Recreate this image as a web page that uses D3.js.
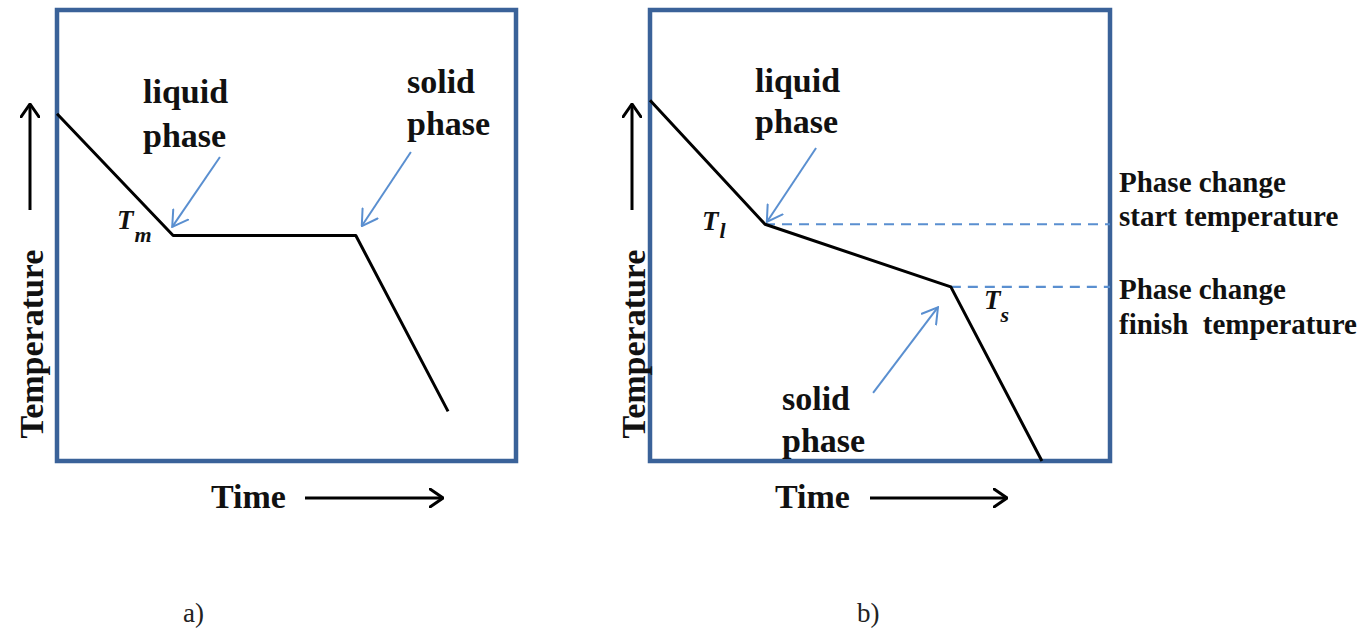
<!DOCTYPE html>
<html>
<head>
<meta charset="utf-8">
<script src="https://cdn.jsdelivr.net/npm/d3@7"></script>
<style>
  body { margin: 0; background: #fff; }
  svg text { font-family: "Liberation Serif", Tinos, "Times New Roman", Times, "DejaVu Serif", serif; }
  .big { font-size: 34px; font-weight: bold; fill: #111; }
  .note { font-size: 29px; font-weight: bold; fill: #111; }
  .sym { font-weight: bold; font-style: italic; fill: #111; }
</style>
</head>
<body>
<svg width="1365" height="644" font-family="Liberation Serif, Times New Roman, serif"></svg>
<script>
var svg = d3.select('svg');

// Cooling curves, [time, temperature] in percent of each frame
var pureCurve = [[0, 77], [25.3, 50], [65.1, 50], [85.2, 11]];
var alloyCurve = [[0, 80], [25, 52.5], [65.4, 38.6], [85.2, 0]];

// Blue pointer arrows [from, to]
var pureArrows = [[[35.5, 67.4], [25.1, 51.9]], [[77.1, 68.5], [66.4, 52.1]]];
var alloyArrows = [[[36.1, 69.4], [25.4, 53.0]], [[48.5, 15.1], [62.6, 34.1]]];

// Dashed reference levels in panel b
var alloyLevels = [52.5, 38.6];

var frameColor = '#3a6299';
var blue = '#5a8fd0';

var panels = [
    {x0: 57, x1: 516, curve: pureCurve, arrows: pureArrows, caption: 'a)', capX: 183,
     sub: 'm', tx: 117, ty: 229, subDy: 13,
     labels: [['liquid', 143, 103], ['phase', 143, 147], ['solid', 407, 93], ['phase', 407, 135]],
     axisX: 30, timeX: 211, timeArrow: [305, 443]},
    {x0: 650, x1: 1110, curve: alloyCurve, arrows: alloyArrows, caption: 'b)', capX: 857,
     sub: 'l', tx: 702, ty: 230, subDy: 8,
     labels: [['liquid', 755, 92], ['phase', 755, 133], ['solid', 782, 410], ['phase', 782, 452]],
     axisX: 632, timeX: 775, timeArrow: [870, 1007]}
];

var defs = svg.append('defs');
function addHead(id, color, w, len, half) {
    defs.append('marker')
        .attr('id', id)
        .attr('viewBox', '0 0 ' + (len + 2) + ' ' + (half * 2 + 2))
        .attr('refX', len + 1).attr('refY', half + 1)
        .attr('markerWidth', len + 2).attr('markerHeight', half * 2 + 2)
        .attr('markerUnits', 'userSpaceOnUse')
        .attr('orient', 'auto')
        .append('path')
        .attr('d', 'M1,1 L' + (len + 1) + ',' + (half + 1) + ' L1,' + (half * 2 + 1))
        .attr('fill', 'none')
        .attr('stroke', color)
        .attr('stroke-width', w)
        .attr('stroke-linecap', 'round');
}
addHead('headBlack', '#000', 3, 13, 9);
addHead('headBlue', blue, 2, 15, 9);

var line = d3.line();

panels.forEach(function(p, i) {
    var xScale = d3.scaleLinear().domain([0, 100]).range([p.x0, p.x1]);
    var yScale = d3.scaleLinear().domain([0, 100]).range([461, 10]);
    var g = svg.append('g').attr('class', 'panel');

    // frame
    g.append('rect')
        .attr('x', p.x0).attr('y', 10)
        .attr('width', p.x1 - p.x0).attr('height', 451)
        .attr('fill', 'none')
        .attr('stroke', frameColor)
        .attr('stroke-width', 4.5);

    // dashed levels (panel b only)
    if (i === 1) {
        g.selectAll('.level')
            .data(alloyLevels)
            .enter().append('line')
            .attr('class', 'level')
            .attr('x1', function(d, j) { return xScale(alloyCurve[j + 1][0]); })
            .attr('x2', xScale(100))
            .attr('y1', function(d) { return yScale(d); })
            .attr('y2', function(d) { return yScale(d); })
            .attr('stroke', blue)
            .attr('stroke-width', 2.2)
            .attr('stroke-dasharray', '10,7');
    }

    // cooling curve
    g.append('path')
        .attr('d', line(p.curve.map(function(d) { return [xScale(d[0]), yScale(d[1])]; })))
        .attr('fill', 'none')
        .attr('stroke', '#000')
        .attr('stroke-width', 3)
        .attr('stroke-linejoin', 'round');

    // pointer arrows
    g.selectAll('.pointer')
        .data(p.arrows)
        .enter().append('line')
        .attr('class', 'pointer')
        .attr('x1', function(d) { return xScale(d[0][0]); })
        .attr('y1', function(d) { return yScale(d[0][1]); })
        .attr('x2', function(d) { return xScale(d[1][0]); })
        .attr('y2', function(d) { return yScale(d[1][1]); })
        .attr('stroke', blue)
        .attr('stroke-width', 2)
        .attr('marker-end', 'url(#headBlue)');

    // phase labels
    g.selectAll('.lbl')
        .data(p.labels)
        .enter().append('text')
        .attr('class', 'big lbl')
        .attr('x', function(d) { return d[1]; })
        .attr('y', function(d) { return d[2]; })
        .text(function(d) { return d[0]; });

    // T symbol
    var t = g.append('text').attr('class', 'sym').attr('x', p.tx).attr('y', p.ty);
    t.append('tspan').attr('font-size', 27).text('T');
    t.append('tspan').attr('font-size', 22).attr('dx', 1).attr('dy', p.subDy).text(p.sub);

    // second T symbol in panel b
    if (i === 1) {
        var ts = g.append('text').attr('class', 'sym').attr('x', 984).attr('y', 309);
        ts.append('tspan').attr('font-size', 27).text('T');
        ts.append('tspan').attr('font-size', 22).attr('dx', 0).attr('dy', 13).text('s');
    }

    // axis arrows
    g.append('line')
        .attr('x1', p.axisX).attr('x2', p.axisX)
        .attr('y1', 210).attr('y2', 104)
        .attr('stroke', '#000').attr('stroke-width', 3)
        .attr('marker-end', 'url(#headBlack)');
    g.append('text')
        .attr('class', 'big')
        .attr('text-anchor', 'middle')
        .attr('transform', 'translate(' + [p.axisX + 13, 344] + ')rotate(-90)')
        .text('Temperature');

    g.append('text')
        .attr('class', 'big')
        .attr('x', p.timeX).attr('y', 508)
        .text('Time');
    g.append('line')
        .attr('x1', p.timeArrow[0]).attr('x2', p.timeArrow[1])
        .attr('y1', 498).attr('y2', 498)
        .attr('stroke', '#000').attr('stroke-width', 3)
        .attr('marker-end', 'url(#headBlack)');

    // caption
    g.append('text')
        .attr('x', p.capX).attr('y', 622)
        .attr('font-size', 27)
        .attr('fill', '#222')
        .text(p.caption);
});

// right side notes for panel b
var notes = [['Phase change', 192], ['start temperature', 226], ['Phase change', 299], ['finish  temperature', 334]];
svg.selectAll('.note')
    .data(notes)
    .enter().append('text')
    .attr('class', 'note')
    .attr('x', 1119)
    .attr('y', function(d) { return d[1]; })
    .attr('xml:space', 'preserve')
    .style('white-space', 'pre')
    .text(function(d) { return d[0]; });
</script>
</body>
</html>
